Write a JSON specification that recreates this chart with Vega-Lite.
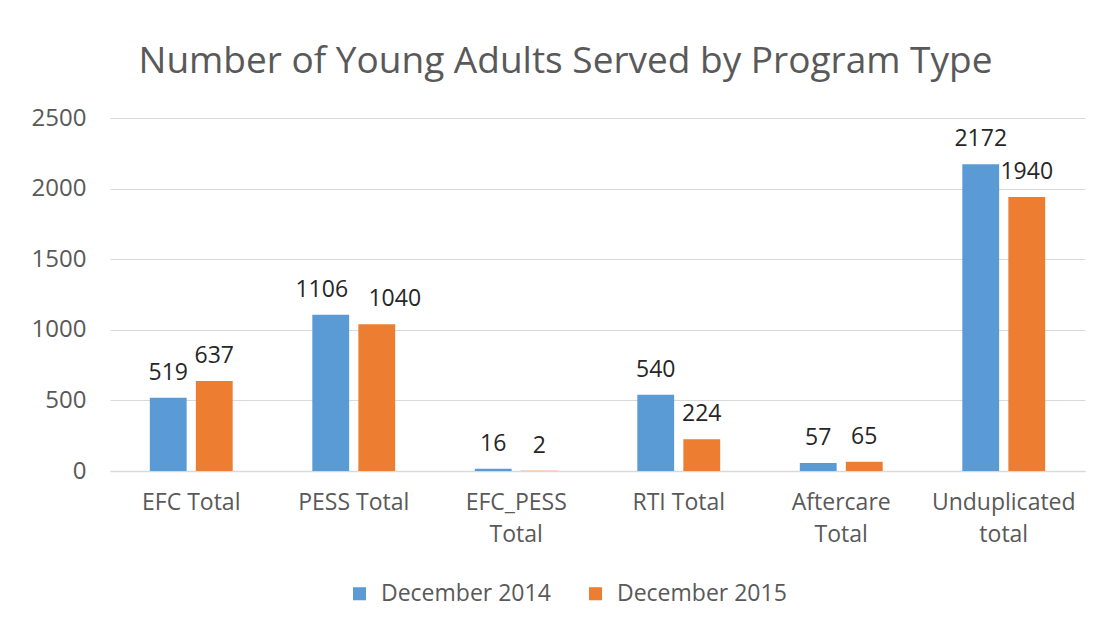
{
  "$schema": "https://vega.github.io/schema/vega-lite/v6.json",
  "width": 975,
  "height": 353,
  "autosize": {"type": "none"},
  "padding": {"left": 110, "top": 118, "right": 24, "bottom": 158},
  "background": "white",
  "title": {
    "text": "Number of Young Adults Served by Program Type",
    "font": "Open Sans",
    "fontSize": 37,
    "fontWeight": "normal",
    "color": "#595959",
    "anchor": "middle",
    "frame": "group",
    "dx": -32,
    "offset": 25
  },
  "data": {
    "values": [
      {"program": "EFC Total", "period": "December 2014", "count": 519},
      {"program": "EFC Total", "period": "December 2015", "count": 637},
      {"program": "PESS Total", "period": "December 2014", "count": 1106},
      {"program": "PESS Total", "period": "December 2015", "count": 1040},
      {"program": "EFC_PESS Total", "period": "December 2014", "count": 16},
      {"program": "EFC_PESS Total", "period": "December 2015", "count": 2},
      {"program": "RTI Total", "period": "December 2014", "count": 540},
      {"program": "RTI Total", "period": "December 2015", "count": 224},
      {"program": "Aftercare Total", "period": "December 2014", "count": 57},
      {"program": "Aftercare Total", "period": "December 2015", "count": 65},
      {"program": "Unduplicated total", "period": "December 2014", "count": 2172},
      {"program": "Unduplicated total", "period": "December 2015", "count": 1940}
    ]
  },
  "encoding": {
    "x": {
      "field": "program",
      "type": "nominal",
      "sort": null,
      "scale": {"paddingInner": 0.49, "paddingOuter": 0.245},
      "axis": {
        "title": null,
        "labelAngle": 0,
        "labelFont": "Open Sans",
        "labelFontSize": 23,
        "labelColor": "#595959",
        "labelPadding": 20,
        "labelLineHeight": 32,
        "ticks": false,
        "domainColor": "#d9d9d9",
        "domainWidth": 1.5,
        "labelExpr": "datum.value == 'EFC_PESS Total' ? ['EFC_PESS', 'Total'] : datum.value == 'Aftercare Total' ? ['Aftercare', 'Total'] : datum.value == 'Unduplicated total' ? ['Unduplicated', 'total'] : datum.value"
      }
    },
    "xOffset": {
      "field": "period",
      "type": "nominal",
      "scale": {"paddingInner": 0.2}
    },
    "y": {
      "field": "count",
      "type": "quantitative",
      "scale": {"domain": [0, 2500], "nice": false},
      "axis": {
        "title": null,
        "values": [0, 500, 1000, 1500, 2000, 2500],
        "format": "d",
        "labelFont": "Open Sans",
        "labelFontSize": 24,
        "labelColor": "#595959",
        "labelPadding": 24,
        "ticks": false,
        "domain": false,
        "gridColor": "#d9d9d9",
        "gridWidth": 1.2
      }
    }
  },
  "layer": [
    {
      "mark": {"type": "bar"},
      "encoding": {
        "color": {
          "field": "period",
          "type": "nominal",
          "scale": {"domain": ["December 2014", "December 2015"], "range": ["#5b9bd5", "#ed7d31"]},
          "legend": {
            "title": null,
            "orient": "none",
            "direction": "horizontal",
            "legendX": 238,
            "legendY": 464,
            "symbolType": "square",
            "symbolSize": 170,
            "symbolStrokeWidth": 0,
            "labelFont": "Open Sans",
            "labelFontSize": 23,
            "labelLimit": 400,
            "labelColor": "#595959",
            "labelOffset": 10,
            "columnPadding": 33
          }
        }
      }
    },
    {
      "transform": [{"filter": "datum.program != 'PESS Total'"}],
      "mark": {
        "type": "text",
        "baseline": "bottom",
        "dy": -13,
        "font": "Open Sans",
        "fontSize": 23,
        "color": "#262626"
      },
      "encoding": {
        "text": {"field": "count", "type": "quantitative"}
      }
    },
    {
      "transform": [{"filter": "datum.program == 'PESS Total' && datum.period == 'December 2014'"}],
      "mark": {
        "type": "text",
        "baseline": "bottom",
        "dy": -13,
        "dx": -9,
        "font": "Open Sans",
        "fontSize": 23,
        "color": "#262626"
      },
      "encoding": {
        "text": {"field": "count", "type": "quantitative"}
      }
    },
    {
      "transform": [{"filter": "datum.program == 'PESS Total' && datum.period == 'December 2015'"}],
      "mark": {
        "type": "text",
        "baseline": "bottom",
        "dy": -13,
        "dx": 18,
        "font": "Open Sans",
        "fontSize": 23,
        "color": "#262626"
      },
      "encoding": {
        "text": {"field": "count", "type": "quantitative"}
      }
    }
  ],
  "config": {
    "view": {"stroke": null}
  }
}
